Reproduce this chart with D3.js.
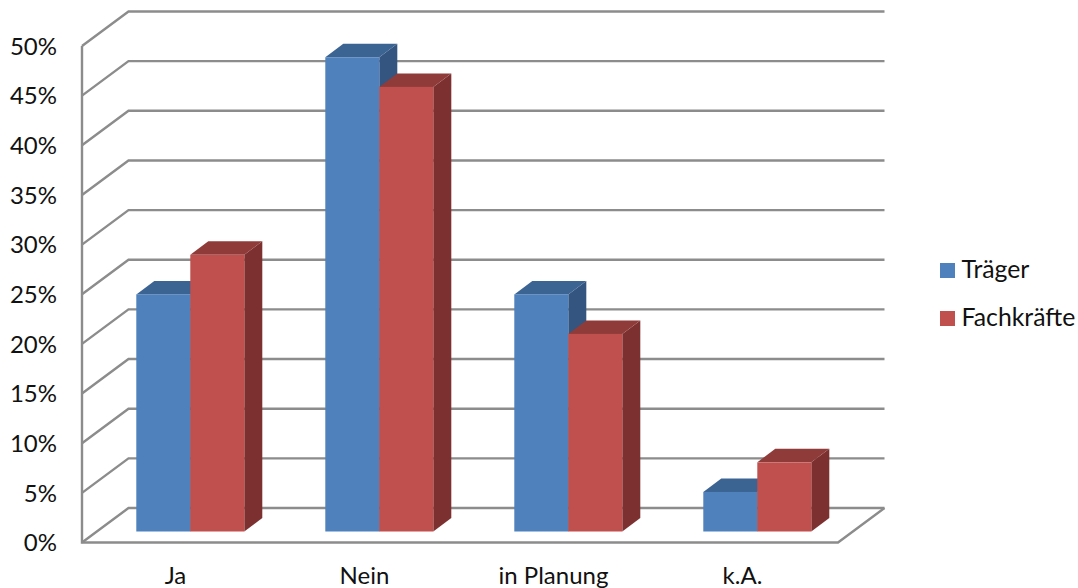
<!DOCTYPE html>
<html>
<head>
<meta charset="utf-8">
<script src="https://cdn.jsdelivr.net/npm/d3@7/dist/d3.min.js"></script>
<style>
  html, body { margin: 0; padding: 0; background: #fff; }
  svg { display: block; }
  text { font-family: Lato, "Open Sans", sans-serif; fill: #111; }
</style>
</head>
<body>
<div id="chart"></div>
<script>
const categories = ["Ja", "Nein", "in Planung", "k.A."];
const series = ["Träger", "Fachkräfte"];
const traeger = [24, 48, 24, 4];
const fachkraefte = [28, 45, 20, 7];
const yTicks = [0, 5, 10, 15, 20, 25, 30, 35, 40, 45, 50];

const colors = {
  "Träger": { front: "#4f81bd", top: "#3c6493", side: "#33557f" },
  "Fachkräfte": { front: "#c0504d", top: "#8f3b39", side: "#7c3130" }
};

const width = 1078, height = 588;
const gridColor = "#8c8c8c";
const fontSize = "24px";

// floor corners
const floorLeft = 82, floorRight = 838, floorY = 542.5;
const wallDx = 46.5, wallDy = -34.5;

// bars stand a bit behind the front edge of the floor
const baseDx = 13.8, barBase = 531.5;
const barDx = 18, barDy = -13.5;

const svg = d3.select("#chart").append("svg")
    .attr("width", width)
    .attr("height", height);

const x = d3.scaleBand().domain(categories).range([floorLeft, floorRight]);
const inner = d3.scaleBand().domain(series).range([0, 108]);
const y = d3.scaleLinear().domain([0, 50]).range([floorY, 46]);
// the bar plane sits deeper than the front wall edge, so its scale is a little shorter
const yBar = d3.scaleLinear().domain([0, 50]).range([barBase, barBase - 494]);

// walls and floor
const grid = svg.append("g")
    .attr("fill", "none")
    .attr("stroke", gridColor)
    .attr("stroke-width", 2.4);

grid.selectAll("path.wall")
  .data(yTicks)
  .join("path")
    .attr("class", "wall")
    .attr("d", d => {
      const p = d3.path();
      p.moveTo(floorLeft, y(d));
      p.lineTo(floorLeft + wallDx, y(d) + wallDy);
      p.lineTo(floorRight + wallDx, y(d) + wallDy);
      return p.toString();
    });

grid.append("path")
    .attr("d", `M${floorLeft},${y(50)}V${floorY}H${floorRight}L${floorRight + wallDx},${floorY + wallDy}`);

// y axis labels only, the lines are drawn above
const yAxis = svg.append("g")
    .attr("transform", `translate(${floorLeft},0)`)
    .call(d3.axisLeft(y).tickValues(yTicks).tickSize(0).tickPadding(25).tickFormat(d => d + "%"));
yAxis.select(".domain").remove();
yAxis.selectAll("text").style("font-size", fontSize).attr("dy", "0.34em").style("font-family", "Lato, sans-serif");

// x axis labels
svg.append("g").selectAll("text")
  .data(categories)
  .join("text")
    .attr("x", d => x(d) + x.bandwidth() / 2 - 1)
    .attr("y", 584)
    .attr("text-anchor", "middle")
    .style("font-size", fontSize)
    .text(d => d);

// one flat row per bar, Träger first so Fachkräfte overlaps it
const rows = [];
categories.forEach((c, i) => {
  rows.push({ cat: c, name: series[0], value: traeger[i] });
  rows.push({ cat: c, name: series[1], value: fachkraefte[i] });
});

const bars = svg.append("g").selectAll("g")
  .data(rows)
  .join("g")
    .attr("transform", d => `translate(${x(d.cat) + (x.bandwidth() - inner.range()[1]) / 2 + baseDx + inner(d.name)},0)`);

const bw = inner.bandwidth();

bars.append("path")
    .attr("fill", d => colors[d.name].side)
    .attr("d", d => `M${bw},${yBar(d.value)}l${barDx},${barDy}V${yBar(0) + barDy}l${-barDx},${-barDy}Z`);

bars.append("path")
    .attr("fill", d => colors[d.name].top)
    .attr("d", d => `M0,${yBar(d.value)}l${barDx},${barDy}h${bw}l${-barDx},${-barDy}Z`);

bars.append("rect")
    .attr("fill", d => colors[d.name].front)
    .attr("x", 0)
    .attr("y", d => yBar(d.value))
    .attr("width", bw)
    .attr("height", d => yBar(0) - yBar(d.value));

// legend
const legend = svg.append("g").selectAll("g")
  .data(series)
  .join("g")
    .attr("transform", (d, i) => `translate(940,${263 + i * 48})`);

legend.append("rect")
    .attr("width", 15)
    .attr("height", 15)
    .attr("fill", d => colors[d].front);

legend.append("text")
    .attr("x", 21.5)
    .attr("y", 15)
    .style("font-size", "24.8px")
    .text(d => d);
</script>
</body>
</html>
